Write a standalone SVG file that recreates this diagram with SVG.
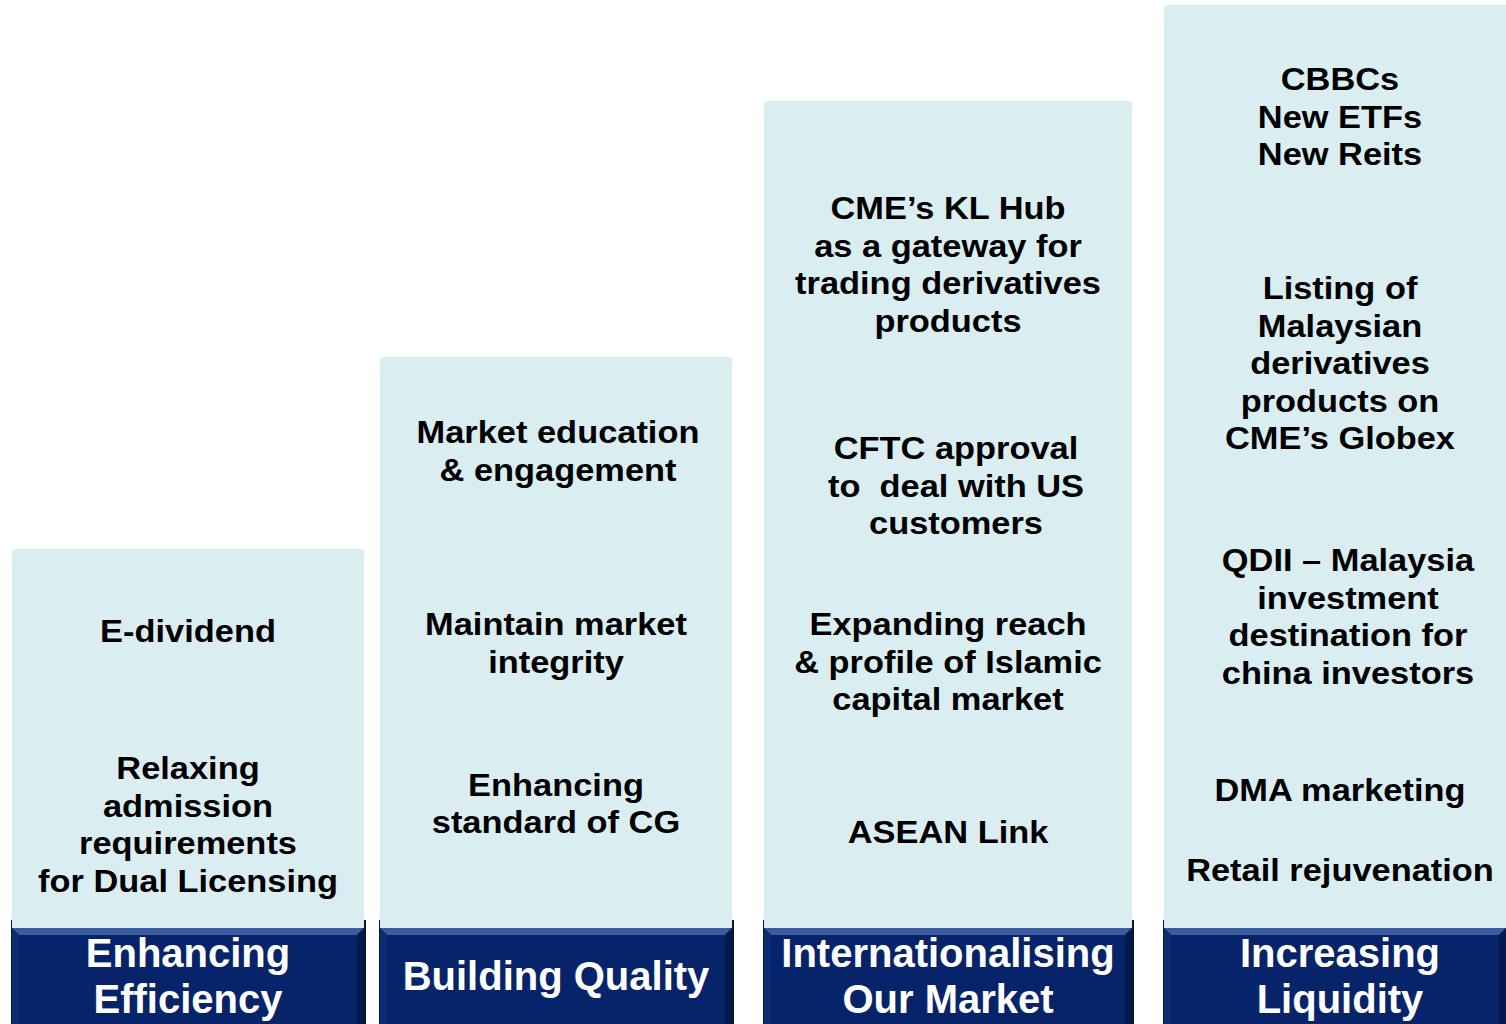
<svg xmlns="http://www.w3.org/2000/svg" width="1506" height="1024" viewBox="0 0 1506 1024">
<defs>
<style>
.panel{fill:#daedf0}
.frame{fill:#0b1630}
.navy{fill:#07246a}
.bevt{fill:#3a5b9f}
.bevs{fill:#0b2e78}
.bevb{fill:#041a4e}
.t{font-family:"Liberation Sans",Arial,sans-serif;font-weight:bold;font-size:31px;fill:#000;text-anchor:middle}
.h{font-family:"Liberation Sans",Arial,sans-serif;font-weight:bold;font-size:40px;fill:#fff;text-anchor:middle}
</style>
</defs>
<rect width="1506" height="1024" fill="#fff"/>

<g id="col1">
<rect class="frame" x="11" y="920" width="355" height="104"/>
<rect class="panel" x="12" y="549" width="352" height="379"/>
<rect class="navy" x="12" y="928" width="352" height="96"/>
<polygon class="bevt" points="12,928 364,928 357,935 19,935"/>
<polygon class="bevs" points="12,928 19,935 19,1024 12,1024"/>
<polygon class="bevb" points="364,928 357,935 357,1024 364,1024"/>
<g transform="translate(188,0) scale(1.11,1)">
<text class="t" x="0" y="642">E-dividend</text>
<text class="t" x="0" y="779">Relaxing</text>
<text class="t" x="0" y="817">admission</text>
<text class="t" x="0" y="854">requirements</text>
<text class="t" x="0" y="892">for Dual Licensing</text>
</g>
<text class="h" x="188" y="967">Enhancing</text>
<text class="h" x="188" y="1013">Efficiency</text>
</g>

<g id="col2">
<rect class="frame" x="379" y="920" width="355" height="104"/>
<rect class="panel" x="380" y="357" width="352" height="571"/>
<rect class="navy" x="380" y="928" width="352" height="96"/>
<polygon class="bevt" points="380,928 732,928 725,935 387,935"/>
<polygon class="bevs" points="380,928 387,935 387,1024 380,1024"/>
<polygon class="bevb" points="732,928 725,935 725,1024 732,1024"/>
<g transform="translate(558,0) scale(1.11,1)">
<text class="t" x="0" y="443">Market education</text>
<text class="t" x="0" y="481">&amp; engagement</text>
</g>
<g transform="translate(556,0) scale(1.11,1)">
<text class="t" x="0" y="635">Maintain market</text>
<text class="t" x="0" y="673">integrity</text>
<text class="t" x="0" y="796">Enhancing</text>
<text class="t" x="0" y="833">standard of CG</text>
</g>
<text class="h" x="556" y="990">Building Quality</text>
</g>

<g id="col3">
<rect class="frame" x="763" y="920" width="371" height="104"/>
<rect class="panel" x="764" y="101" width="368" height="827"/>
<rect class="navy" x="764" y="928" width="368" height="96"/>
<polygon class="bevt" points="764,928 1132,928 1125,935 771,935"/>
<polygon class="bevs" points="764,928 771,935 771,1024 764,1024"/>
<polygon class="bevb" points="1132,928 1125,935 1125,1024 1132,1024"/>
<g transform="translate(948,0) scale(1.11,1)">
<text class="t" x="0" y="219">CME’s KL Hub</text>
<text class="t" x="0" y="257">as a gateway for</text>
<text class="t" x="0" y="294">trading derivatives</text>
<text class="t" x="0" y="332">products</text>
</g>
<g transform="translate(956,0) scale(1.11,1)">
<text class="t" x="0" y="459">CFTC approval</text>
<text class="t" x="0" y="497" xml:space="preserve">to  deal with US</text>
<text class="t" x="0" y="534">customers</text>
</g>
<g transform="translate(948,0) scale(1.11,1)">
<text class="t" x="0" y="635">Expanding reach</text>
<text class="t" x="0" y="673">&amp; profile of Islamic</text>
<text class="t" x="0" y="710">capital market</text>
<text class="t" x="0" y="843">ASEAN Link</text>
</g>
<text class="h" x="948" y="967">Internationalising</text>
<text class="h" x="948" y="1013">Our Market</text>
</g>

<g id="col4">
<rect class="frame" x="1163" y="920" width="343" height="104"/>
<rect class="panel" x="1164" y="5" width="342" height="923"/>
<rect class="navy" x="1164" y="928" width="342" height="96"/>
<polygon class="bevt" points="1164,928 1506,928 1499,935 1171,935"/>
<polygon class="bevs" points="1164,928 1171,935 1171,1024 1164,1024"/>
<polygon class="bevb" points="1506,928 1499,935 1499,1024 1506,1024"/>
<g transform="translate(1340,0) scale(1.11,1)">
<text class="t" x="0" y="90">CBBCs</text>
<text class="t" x="0" y="128">New ETFs</text>
<text class="t" x="0" y="165">New Reits</text>
<text class="t" x="0" y="299">Listing of</text>
<text class="t" x="0" y="337">Malaysian</text>
<text class="t" x="0" y="374">derivatives</text>
<text class="t" x="0" y="412">products on</text>
<text class="t" x="0" y="449">CME’s Globex</text>
</g>
<g transform="translate(1348,0) scale(1.11,1)">
<text class="t" x="0" y="571">QDII – Malaysia</text>
<text class="t" x="0" y="609">investment</text>
<text class="t" x="0" y="646">destination for</text>
<text class="t" x="0" y="684">china investors</text>
</g>
<g transform="translate(1340,0) scale(1.11,1)">
<text class="t" x="0" y="801">DMA marketing</text>
<text class="t" x="0" y="881">Retail rejuvenation</text>
</g>
<text class="h" x="1340" y="967">Increasing</text>
<text class="h" x="1340" y="1013">Liquidity</text>
</g>
</svg>
